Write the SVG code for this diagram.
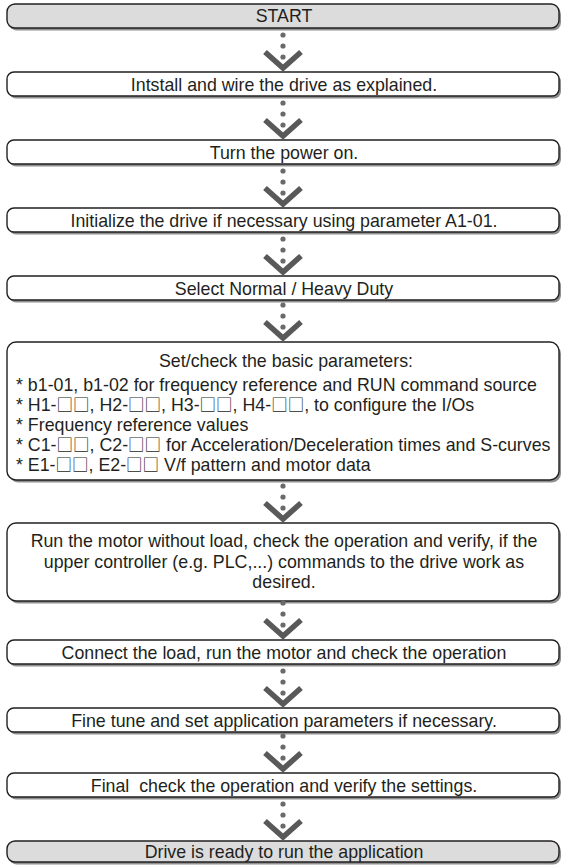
<svg xmlns="http://www.w3.org/2000/svg" width="562" height="865" viewBox="0 0 562 865">
<defs>
<style>
.sh{fill:#8f8f8f}
.bx{fill:#ffffff;stroke:#231f20;stroke-width:1.4}
.term{fill:#dcdcdc;stroke:#231f20;stroke-width:1.4}
.t{font-family:"Liberation Sans",Arial,sans-serif;font-size:17.8px;fill:#231f20}
.sq{font-family:"Noto Sans CJK JP","Noto Sans CJK SC",sans-serif;font-size:16.5px}
.c{text-anchor:middle}
.dot{fill:#6a6a6a}
.chev{fill:none;stroke:#595959;stroke-width:5.5;stroke-linejoin:miter}
</style>
<g id="conn-shape">
<circle class="dot" cx="283" cy="-37" r="2.6"/>
<circle class="dot" cx="283" cy="-26" r="2.6"/>
<circle class="dot" cx="283" cy="-15" r="2.6"/>
<polyline class="chev" points="265,-20 283,-4 301,-20"/>
</g>
</defs>
<rect width="562" height="865" fill="#ffffff"/>

<g id="n1">
<rect class="sh" x="9" y="6.5" width="552" height="24" rx="8"/>
<rect class="term" x="7" y="4" width="552" height="24" rx="8"/>
<text class="t c" x="284" y="22">START</text>
</g>
<g id="n2">
<rect class="sh" x="9" y="74.5" width="552" height="24" rx="7"/>
<rect class="bx" x="7" y="72" width="552" height="24" rx="7"/>
<text class="t c" x="284" y="90.5">Intstall and wire the drive as explained.</text>
</g>
<g id="n3">
<rect class="sh" x="9" y="142.5" width="552" height="24" rx="7"/>
<rect class="bx" x="7" y="140" width="552" height="24" rx="7"/>
<text class="t c" x="284" y="158.5">Turn the power on.</text>
</g>
<g id="n4">
<rect class="sh" x="9" y="210.5" width="552" height="24" rx="7"/>
<rect class="bx" x="7" y="208" width="552" height="24" rx="7"/>
<text class="t c" x="284" y="226.5">Initialize the drive if necessary using parameter A1-01.</text>
</g>
<g id="n5">
<rect class="sh" x="9" y="278.5" width="552" height="24" rx="7"/>
<rect class="bx" x="7" y="276" width="552" height="24" rx="7"/>
<text class="t c" x="284" y="294.5">Select Normal / Heavy Duty</text>
</g>
<g id="n6">
<rect class="sh" x="9" y="344.5" width="552" height="138" rx="9"/>
<rect class="bx" x="7" y="342" width="552" height="138" rx="9"/>
<text class="t c" x="286" y="367">Set/check the basic parameters:</text>
<text class="t" x="16" y="391">* b1-01, b1-02 for frequency reference and RUN command source</text>
<text class="t" x="16" y="411">* H1-<tspan class="sq">□□</tspan>, H2-<tspan class="sq">□□</tspan>, H3-<tspan class="sq">□□</tspan>, H4-<tspan class="sq">□□</tspan>, to configure the I/Os</text>
<text class="t" x="16" y="431">* Frequency reference values</text>
<text class="t" x="16" y="451">* C1-<tspan class="sq">□□</tspan>, C2-<tspan class="sq">□□</tspan> for Acceleration/Deceleration times and S-curves</text>
<text class="t" x="16" y="471">* E1-<tspan class="sq">□□</tspan>, E2-<tspan class="sq">□□</tspan> V/f pattern and motor data</text>
</g>
<g id="n7">
<rect class="sh" x="9" y="525.5" width="552" height="78" rx="9"/>
<rect class="bx" x="7" y="523" width="552" height="78" rx="9"/>
<text class="t c" x="284" y="547">Run the motor without load, check the operation and verify, if the</text>
<text class="t c" x="284" y="567.5">upper controller (e.g. PLC,...) commands to the drive work as</text>
<text class="t c" x="284" y="588">desired.</text>
</g>
<g id="n8">
<rect class="sh" x="9" y="642.5" width="552" height="24" rx="7"/>
<rect class="bx" x="7" y="640" width="552" height="24" rx="7"/>
<text class="t c" x="284" y="658.5">Connect the load, run the motor and check the operation</text>
</g>
<g id="n9">
<rect class="sh" x="9" y="710.5" width="552" height="24" rx="7"/>
<rect class="bx" x="7" y="708" width="552" height="24" rx="7"/>
<text class="t c" x="284" y="726.5">Fine tune and set application parameters if necessary.</text>
</g>
<g id="n10">
<rect class="sh" x="9" y="775.5" width="552" height="24" rx="7"/>
<rect class="bx" x="7" y="773" width="552" height="24" rx="7"/>
<text class="t c" x="284" y="791.5" xml:space="preserve">Final  check the operation and verify the settings.</text>
</g>
<g id="n11">
<rect class="sh" x="9" y="843.5" width="552" height="21" rx="8"/>
<rect class="term" x="7" y="841" width="552" height="21" rx="8"/>
<text class="t c" x="284" y="858">Drive is ready to run the application</text>
</g>

<g id="connectors">
<use href="#conn-shape" y="72"/>
<use href="#conn-shape" y="140"/>
<use href="#conn-shape" y="208"/>
<use href="#conn-shape" y="276"/>
<use href="#conn-shape" y="342"/>
<use href="#conn-shape" y="523"/>
<use href="#conn-shape" y="640"/>
<use href="#conn-shape" y="708"/>
<use href="#conn-shape" y="773"/>
<use href="#conn-shape" y="841"/>
</g>
</svg>
